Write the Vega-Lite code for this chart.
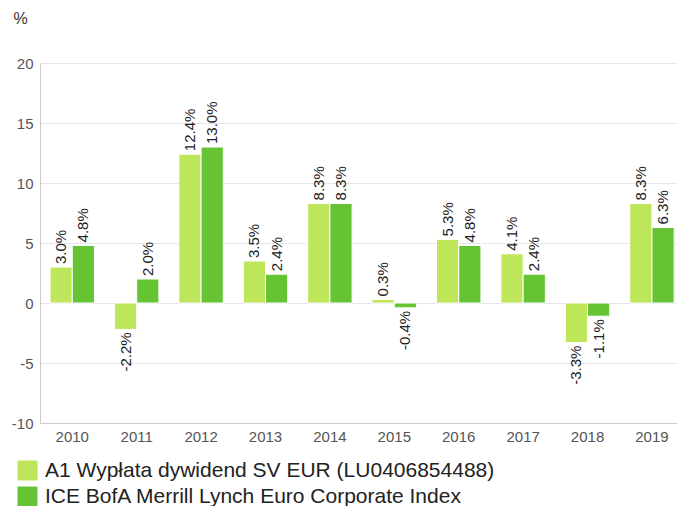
{
  "$schema": "https://vega.github.io/schema/vega-lite/v6.json",
  "width": 637,
  "height": 360,
  "autosize": {"type": "none"},
  "padding": {"left": 40, "top": 63, "right": 0, "bottom": 83},
  "background": "white",
  "config": {"font": "Liberation Sans", "view": {"stroke": null}},
  "data": {
    "values": [
      {"year": "2010", "series": "A1 Wypłata dywidend SV EUR (LU0406854488)", "value": 3.0, "label": "3.0%"},
      {"year": "2010", "series": "ICE BofA Merrill Lynch Euro Corporate Index", "value": 4.8, "label": "4.8%"},
      {"year": "2011", "series": "A1 Wypłata dywidend SV EUR (LU0406854488)", "value": -2.2, "label": "-2.2%"},
      {"year": "2011", "series": "ICE BofA Merrill Lynch Euro Corporate Index", "value": 2.0, "label": "2.0%"},
      {"year": "2012", "series": "A1 Wypłata dywidend SV EUR (LU0406854488)", "value": 12.4, "label": "12.4%"},
      {"year": "2012", "series": "ICE BofA Merrill Lynch Euro Corporate Index", "value": 13.0, "label": "13.0%"},
      {"year": "2013", "series": "A1 Wypłata dywidend SV EUR (LU0406854488)", "value": 3.5, "label": "3.5%"},
      {"year": "2013", "series": "ICE BofA Merrill Lynch Euro Corporate Index", "value": 2.4, "label": "2.4%"},
      {"year": "2014", "series": "A1 Wypłata dywidend SV EUR (LU0406854488)", "value": 8.3, "label": "8.3%"},
      {"year": "2014", "series": "ICE BofA Merrill Lynch Euro Corporate Index", "value": 8.3, "label": "8.3%"},
      {"year": "2015", "series": "A1 Wypłata dywidend SV EUR (LU0406854488)", "value": 0.3, "label": "0.3%"},
      {"year": "2015", "series": "ICE BofA Merrill Lynch Euro Corporate Index", "value": -0.4, "label": "-0.4%"},
      {"year": "2016", "series": "A1 Wypłata dywidend SV EUR (LU0406854488)", "value": 5.3, "label": "5.3%"},
      {"year": "2016", "series": "ICE BofA Merrill Lynch Euro Corporate Index", "value": 4.8, "label": "4.8%"},
      {"year": "2017", "series": "A1 Wypłata dywidend SV EUR (LU0406854488)", "value": 4.1, "label": "4.1%"},
      {"year": "2017", "series": "ICE BofA Merrill Lynch Euro Corporate Index", "value": 2.4, "label": "2.4%"},
      {"year": "2018", "series": "A1 Wypłata dywidend SV EUR (LU0406854488)", "value": -3.3, "label": "-3.3%"},
      {"year": "2018", "series": "ICE BofA Merrill Lynch Euro Corporate Index", "value": -1.1, "label": "-1.1%"},
      {"year": "2019", "series": "A1 Wypłata dywidend SV EUR (LU0406854488)", "value": 8.3, "label": "8.3%"},
      {"year": "2019", "series": "ICE BofA Merrill Lynch Euro Corporate Index", "value": 6.3, "label": "6.3%"}
    ]
  },
  "encoding": {
    "x": {
      "field": "year",
      "type": "nominal",
      "scale": {"paddingInner": 0.31, "paddingOuter": 0.1, "align": 0.78},
      "axis": {
        "title": null,
        "labelAngle": 0,
        "labelFontSize": 15,
        "labelColor": "#555555",
        "labelPadding": 6,
        "ticks": false,
        "domainColor": "#cccccc",
        "grid": false
      }
    },
    "xOffset": {"field": "series", "type": "nominal", "scale": {"paddingInner": 0, "paddingOuter": 0}},
    "y": {
      "field": "value",
      "type": "quantitative",
      "scale": {"domain": [-10, 20], "nice": false},
      "axis": {
        "values": [-10, -5, 0, 5, 10, 15, 20],
        "labelExpr": "'' + datum.value",
        "title": "%",
        "titleAngle": 0,
        "titleX": -27,
        "titleY": -45,
        "titleAlign": "left",
        "titleBaseline": "middle",
        "titleFontSize": 16,
        "titleFontWeight": "normal",
        "titleColor": "#333333",
        "labelFontSize": 15,
        "labelColor": "#555555",
        "labelPadding": 7,
        "ticks": false,
        "domainColor": "#cccccc",
        "gridColor": "#e6e6e6"
      }
    }
  },
  "layer": [
    {
      "mark": {"type": "bar", "stroke": "white", "strokeWidth": 1},
      "encoding": {
        "color": {
          "field": "series",
          "type": "nominal",
          "scale": {
            "domain": ["A1 Wypłata dywidend SV EUR (LU0406854488)", "ICE BofA Merrill Lynch Euro Corporate Index"],
            "range": ["#bee65a", "#66c434"]
          },
          "legend": {
            "orient": "none",
            "legendX": -23,
            "legendY": 397,
            "direction": "vertical",
            "title": null,
            "symbolType": "square",
            "symbolSize": 400,
            "symbolStrokeWidth": 0,
            "symbolOpacity": 1,
            "labelFontSize": 21,
            "labelColor": "#222222",
            "labelLimit": 700,
            "labelOffset": 7,
            "rowPadding": 4,
            "padding": 0
          }
        }
      }
    },
    {
      "transform": [{"filter": "datum.value >= 0"}],
      "mark": {"type": "text", "angle": -90, "align": "left", "baseline": "middle", "dx": 3, "fontSize": 15, "color": "#222222"},
      "encoding": {"text": {"field": "label"}}
    },
    {
      "transform": [{"filter": "datum.value < 0"}],
      "mark": {"type": "text", "angle": -90, "align": "right", "baseline": "middle", "dx": -3, "fontSize": 15, "color": "#222222"},
      "encoding": {"text": {"field": "label"}}
    }
  ]
}
